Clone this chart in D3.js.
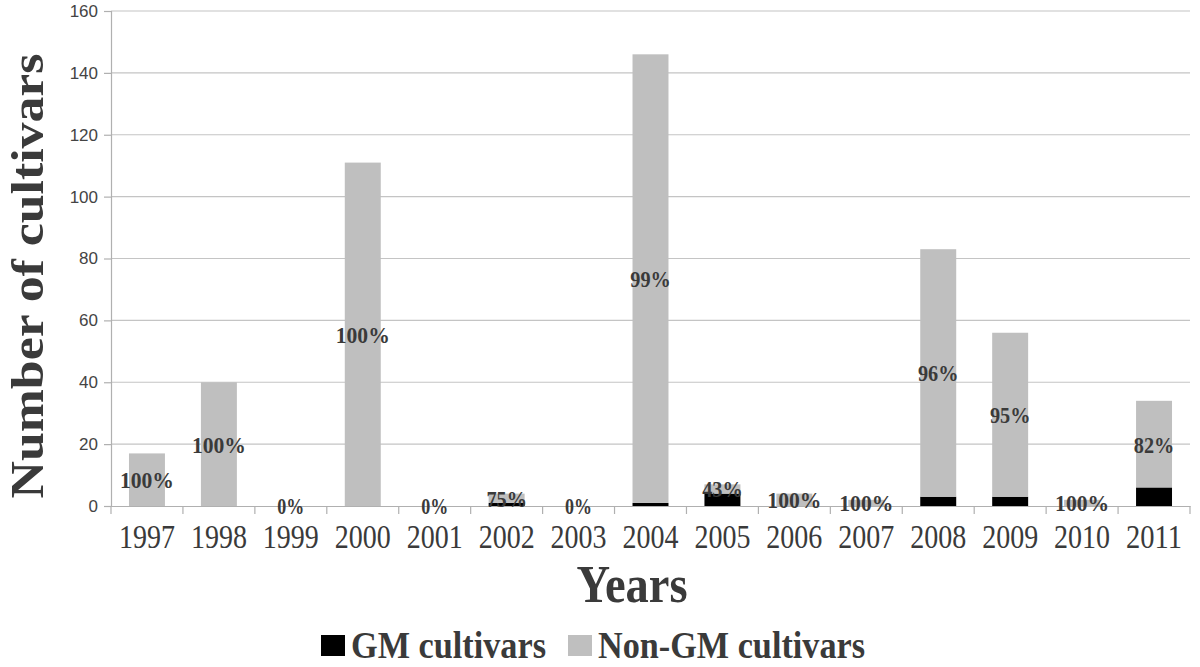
<!DOCTYPE html>
<html><head><meta charset="utf-8">
<script src="https://cdn.jsdelivr.net/npm/d3@7"></script>
<style>body{margin:0;background:#fff}</style></head>
<body><svg id="c" width="1200" height="667"></svg>
<script>
const years = ["1997","1998","1999","2000","2001","2002","2003","2004","2005","2006","2007","2008","2009","2010","2011"];
const gmValues    = [0, 0, 0, 0, 0, 1, 0, 1, 4, 0, 0, 3, 3, 0, 6];
const nonGmValues = [17, 40, 0, 111, 0, 3, 0, 145, 3, 4, 2, 80, 53, 2, 28];
const pctLabels = ["100%","100%","0%","100%","0%","75%","0%","99%","43%","100%","100%","96%","95%","100%","82%"];
const yTicks = [0,20,40,60,80,100,120,140,160];
const seriesNames = ["GM cultivars","Non-GM cultivars"];
const colors = ["#000000","#bfbfbf"];

const serif = "Liberation Serif, Times New Roman, serif";
const svg = d3.select("#c");
const m = {l:111, r:1190, t:11, b:506};
const x = d3.scaleBand().domain(years).range([m.l, m.r]).paddingInner(0.5).paddingOuter(0.25);
const xb = d3.scaleBand().domain(years).range([m.l, m.r]);
const y = d3.scaleLinear().domain([0,160]).range([m.b, m.t]);

// gridlines
svg.append("g").selectAll("line").data(yTicks.filter(d=>d>0)).join("line")
  .attr("x1", m.l).attr("x2", m.r).attr("y1", d=>y(d)).attr("y2", d=>y(d))
  .attr("stroke","#c4c4c4").attr("stroke-width",1.2);

// y axis
const ya = svg.append("g").attr("transform",`translate(${m.l},0)`)
  .call(d3.axisLeft(y).tickValues(yTicks).tickSize(7).tickPadding(6));
ya.select(".domain").attr("stroke","#b0b0b0").attr("stroke-width",1.2);
ya.selectAll(".tick line").attr("stroke","#b0b0b0").attr("stroke-width",1.2);
ya.selectAll("text").attr("font-family","Liberation Sans, Arial, sans-serif").attr("font-size",17).attr("fill","#444");

// x axis
const xa = svg.append("g").attr("transform",`translate(0,${m.b})`)
  .call(d3.axisBottom(xb).tickSize(0).tickPadding(19));
xa.select(".domain").attr("stroke","#b0b0b0").attr("stroke-width",1.2);
xa.selectAll("text").attr("font-family",serif).attr("font-size",33).attr("fill","#3a3a3a")
  .attr("textLength",56).attr("lengthAdjust","spacingAndGlyphs");
const bounds = years.map(d=>xb(d)).concat([m.r]);
svg.append("g").selectAll("line").data(bounds).join("line")
  .attr("x1",d=>d).attr("x2",d=>d).attr("y1",m.b).attr("y2",m.b+8)
  .attr("stroke","#b0b0b0").attr("stroke-width",1.2);

// stacked bars
const data = years.map((yr,i)=>({year:yr, gm:gmValues[i], non:nonGmValues[i]}));
const stack = d3.stack().keys(["gm","non"])(data);
svg.append("g").selectAll("g").data(stack).join("g").attr("fill",(d,i)=>colors[i])
  .selectAll("rect").data(d=>d).join("rect")
  .attr("x", d=>x(d.data.year)).attr("width", x.bandwidth())
  .attr("y", d=>y(d[1])).attr("height", d=>y(d[0])-y(d[1]));

// labels
svg.append("g").selectAll("text").data(data).join("text")
  .attr("x", d=>xb(d.year)+xb.bandwidth()/2)
  .attr("y", d=>y(d.gm + d.non/2))
  .attr("dy","0.35em").attr("text-anchor","middle")
  .attr("font-family",serif).attr("font-weight","bold")
  .attr("font-size",24).attr("fill","#3a3a3a")
  .attr("textLength",(d,i)=>pctLabels[i].length*13.5).attr("lengthAdjust","spacingAndGlyphs")
  .text((d,i)=>pctLabels[i]);

// axis titles
svg.append("text").attr("transform","translate(43,276) rotate(-90)").attr("text-anchor","middle")
  .attr("font-family",serif).attr("font-weight","bold")
  .attr("font-size",47).attr("fill","#3a3a3a")
  .attr("textLength",445).attr("lengthAdjust","spacingAndGlyphs").text("Number of cultivars");
svg.append("text").attr("x",632).attr("y",602).attr("text-anchor","middle")
  .attr("font-family",serif).attr("font-weight","bold")
  .attr("font-size",53).attr("fill","#3a3a3a")
  .attr("textLength",111).attr("lengthAdjust","spacingAndGlyphs").text("Years");

// legend
const lg = svg.append("g");
const legendX = [321, 568];
const legendW = [195, 267];
seriesNames.forEach((n,i)=>{
  lg.append("rect").attr("x",legendX[i]).attr("y",635).attr("width",24).attr("height",21).attr("fill",colors[i]);
  lg.append("text").attr("x",legendX[i]+30).attr("y",658)
    .attr("font-family",serif).attr("font-weight","bold")
    .attr("font-size",37).attr("fill","#3a3a3a")
    .attr("textLength",legendW[i]).attr("lengthAdjust","spacingAndGlyphs").text(n);
});
</script></body></html>
